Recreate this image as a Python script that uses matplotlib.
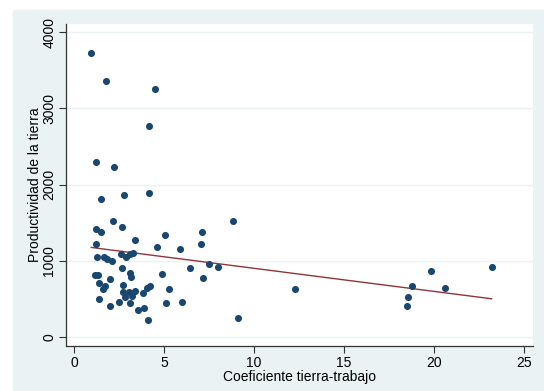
import numpy as np
import matplotlib
matplotlib.use("Agg")
import matplotlib.pyplot as plt
from matplotlib.patches import Rectangle

plt.rcParams['font.family'] = ['Liberation Sans', 'DejaVu Sans']

# coeficiente tierra-trabajo (x) vs productividad de la tierra (y)
coef = [0.96, 1.78, 4.52, 4.18, 1.22, 2.20, 1.48, 2.76, 4.17,
        2.15, 1.22, 2.67, 1.52, 5.04, 7.11, 3.41, 1.20, 7.07, 4.63,
        5.89, 2.63, 3.30, 3.11, 2.89, 1.26, 1.67, 1.85, 2.11, 2.69,
        6.43, 7.52, 8.00, 1.17, 1.32, 3.11, 3.15, 4.91, 1.98, 7.15,
        1.41, 1.70, 1.61, 2.70, 4.22, 4.06, 5.28, 2.74, 3.07, 3.39,
        3.81, 3.22, 2.85, 1.39, 2.52, 3.11, 5.13, 6.02, 2.02, 3.56,
        3.91, 9.09, 4.13, 8.85,
        12.30, 19.81, 18.80, 18.57, 18.48, 20.59, 23.20]
prod = [3727, 3364, 3250, 2769, 2297, 2231, 1811, 1859, 1885,
        1522, 1417, 1448, 1374, 1339, 1374, 1269, 1220, 1216, 1185,
        1159, 1089, 1106, 1085, 1046, 1054, 1054, 1028, 993, 901,
        910, 958, 915, 818, 818, 836, 783, 823, 765, 778,
        705, 669, 630, 682, 673, 647, 630, 591, 591, 600,
        573, 538, 529, 503, 464, 451, 451, 455, 407, 354,
        376, 249, 223, 1520,
        626, 862, 669, 529, 407, 639, 919]

xticks = [0, 5, 10, 15, 20, 25]
yticks = [0, 1000, 2000, 3000, 4000]

x = np.array(coef)
y = np.array(prod)
b, a = np.polyfit(x, y, 1)
xl = np.array([x.min(), x.max()])

fig = plt.figure(figsize=(5.44, 3.91), dpi=100)
fig.patches.append(Rectangle((13/544, 0), 1 - 13/544, 1 - 10/391,
                             transform=fig.transFigure, color='#EAF2F3', zorder=-10))
ax = fig.add_axes([66/544, 45/391, (533-66)/544, (346-24)/391])
ax.set_zorder(5)
ax.set_facecolor('white')

for yt in yticks:
    ax.axhline(yt, color='#EAF2F3', lw=1.0, zorder=1)

ax.scatter(x, y, s=26, color='#1A476F', zorder=3, linewidths=0)
ax.plot(xl, a + b * xl, color='#90353B', lw=1.0, zorder=2)

ax.set_xlim(-0.44, 25.5)
ax.set_ylim(-118, 4108)
ax.set_xticks(xticks)
ax.set_yticks(yticks)
ax.set_yticklabels([str(v) for v in yticks], rotation=90, va='center')
ax.tick_params(axis='both', direction='out', length=5, width=0.8,
               color='#333333', labelsize=10, pad=2)

for s in ['top', 'right']:
    ax.spines[s].set_visible(False)
for s in ['left', 'bottom']:
    ax.spines[s].set_color('#333333')
    ax.spines[s].set_linewidth(0.9)

ax.set_xlabel('Coeficiente tierra-trabajo', fontsize=10, labelpad=0.5)
ax.set_ylabel('Productividad de la tierra', fontsize=10, labelpad=0)

fig.savefig('out.png', dpi=100)
